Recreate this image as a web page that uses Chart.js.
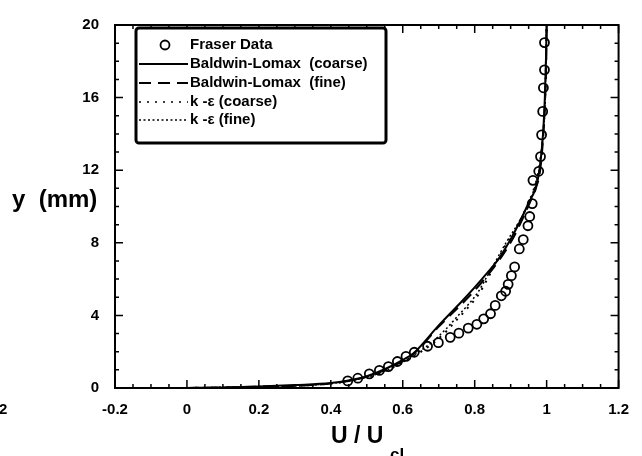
<!DOCTYPE html>
<html>
<head>
<meta charset="utf-8">
<script src="https://cdn.jsdelivr.net/npm/chart.js@4.4.0/dist/chart.umd.min.js"></script>
<style>
  html, body { margin: 0; padding: 0; background: #fff; }
  #wrap { width: 642px; height: 456px; }
</style>
</head>
<body>
<div id="wrap"><canvas id="chart" width="642" height="456"></canvas></div>
<script>
// Dados (U/Ucl, y em mm)
const fraserU = [0.447, 0.475, 0.507, 0.535, 0.560, 0.585, 0.609, 0.632, 0.669, 0.699, 0.732, 0.756,
                 0.782, 0.806, 0.825, 0.844, 0.857, 0.874, 0.886, 0.893, 0.902, 0.911, 0.924, 0.935,
                 0.948, 0.953, 0.960, 0.962, 0.978, 0.983, 0.986, 0.989, 0.991, 0.994, 0.994];
const fraserY = [0.39, 0.54, 0.78, 0.97, 1.18, 1.46, 1.74, 1.97, 2.30, 2.50, 2.79, 3.02,
                 3.30, 3.51, 3.81, 4.09, 4.55, 5.08, 5.33, 5.71, 6.19, 6.67, 7.66, 8.18,
                 8.94, 9.45, 10.16, 11.44, 11.94, 12.75, 13.95, 15.24, 16.54, 17.53, 19.03];

const blCoarseU = [0.0, 0.1, 0.2, 0.3, 0.4, 0.45, 0.5, 0.56, 0.6, 0.63, 0.70, 0.775, 0.82,
                   0.867, 0.90, 0.923, 0.95, 0.969, 0.98, 0.99, 0.995, 0.998, 1.0];
const blCoarseY = [0.0, 0.03, 0.08, 0.16, 0.27, 0.42, 0.65, 1.13, 1.55, 1.92, 3.45, 5.0, 6.0,
                   7.13, 8.2, 9.06, 10.2, 11.0, 12.0, 14.0, 16.0, 18.0, 20.0];

const blFineU = [0.0, 0.2, 0.4, 0.5, 0.56, 0.63, 0.70, 0.78, 0.825, 0.87, 0.905, 0.928,
                 0.953, 0.97, 0.982, 0.991, 0.996, 0.999, 1.0];
const blFineY = [0.0, 0.07, 0.25, 0.62, 1.08, 1.88, 3.38, 4.95, 5.95, 7.1, 8.2, 9.1,
                 10.2, 11.0, 12.0, 14.0, 16.0, 18.0, 20.0];

const keCoarseU = [0.0, 0.2, 0.4, 0.5, 0.58, 0.63, 0.68, 0.72, 0.75, 0.78, 0.812, 0.835, 0.862, 0.89,
                   0.92, 0.945, 0.965, 0.978, 0.99, 0.996, 1.0];
const keCoarseY = [0.0, 0.07, 0.25, 0.6, 1.2, 1.75, 2.4, 3.1, 3.75, 4.4, 5.19, 6.0, 7.0, 8.0,
                   9.0, 10.0, 11.0, 12.0, 14.0, 16.0, 20.0];

const keFineU = [0.0, 0.2, 0.4, 0.5, 0.58, 0.63, 0.68, 0.72, 0.75, 0.78, 0.81, 0.833, 0.86, 0.89,
                 0.92, 0.946, 0.966, 0.979, 0.99, 0.996, 1.0];
const keFineY = [0.0, 0.07, 0.25, 0.6, 1.2, 1.8, 2.5, 3.25, 3.9, 4.55, 5.3, 6.1, 7.05, 8.1,
                 9.05, 10.0, 11.0, 12.0, 14.0, 16.0, 20.0];

const xTicks = [-0.2, 0, 0.2, 0.4, 0.6, 0.8, 1, 1.2];
const yTicks = [0, 4, 8, 12, 16, 20];

const legendLabels = ['Fraser Data', 'Baldwin-Lomax  (coarse)', 'Baldwin-Lomax  (fine)', 'k -\u03b5 (coarse)', 'k -\u03b5 (fine)'];

const pts = (us, ys) => us.map((u, i) => ({ x: u, y: ys[i] }));
const FONT = '"Liberation Sans", Arial, sans-serif';

// Traços internos (maiores e menores) nos quatro lados + moldura + legenda + títulos
const framePlugin = {
  id: 'frame',
  afterDraw(chart) {
    const { ctx, chartArea: a, scales: { x, y } } = chart;
    ctx.save();
    ctx.strokeStyle = '#000';
    ctx.lineWidth = 1.5;
    ctx.beginPath();
    for (let v = -0.2; v <= 1.2001; v += 0.05) {
      const px = x.getPixelForValue(v);
      const major = Math.abs(v / 0.2 - Math.round(v / 0.2)) < 1e-6;
      const len = major ? 8 : 4;
      ctx.moveTo(px, a.bottom); ctx.lineTo(px, a.bottom - len);
      ctx.moveTo(px, a.top); ctx.lineTo(px, a.top + len);
    }
    for (let v = 0; v <= 20; v += 1) {
      const py = y.getPixelForValue(v);
      const len = v % 4 === 0 ? 8 : 4;
      ctx.moveTo(a.left, py); ctx.lineTo(a.left + len, py);
      ctx.moveTo(a.right, py); ctx.lineTo(a.right - len, py);
    }
    ctx.stroke();
    ctx.lineWidth = 2;
    ctx.strokeRect(a.left, a.top, a.right - a.left, a.bottom - a.top);

    // Legenda
    ctx.lineWidth = 3;
    ctx.beginPath();
    ctx.roundRect(136, 28, 250, 115, 3);
    ctx.fillStyle = '#fff';
    ctx.fill();
    ctx.stroke();
    ctx.fillStyle = '#000';
    ctx.font = 'bold 15px ' + FONT;
    ctx.textBaseline = 'middle';
    const rows = [45, 64, 83, 102, 120];
    const dashes = [null, [], [12, 7], [2, 6], [2, 2.5]];
    rows.forEach((ry, i) => {
      if (i === 0) {
        ctx.lineWidth = 1.8;
        ctx.beginPath();
        ctx.arc(165, ry, 4.5, 0, Math.PI * 2);
        ctx.stroke();
      } else {
        ctx.lineWidth = i >= 3 ? 1.5 : 2;
        ctx.setLineDash(dashes[i]);
        ctx.beginPath();
        ctx.moveTo(139, ry); ctx.lineTo(188, ry);
        ctx.stroke();
        ctx.setLineDash([]);
      }
      ctx.textAlign = 'left';
      ctx.fillText(legendLabels[i], 190, ry);
    });

    // Títulos dos eixos
    ctx.textAlign = 'left';
    ctx.textBaseline = 'alphabetic';
    ctx.font = 'bold 24px ' + FONT;
    ctx.fillText('y  (mm)', 12, 207);
    ctx.font = 'bold 23px ' + FONT;
    ctx.fillText('U / U', 331, 443);
    ctx.font = 'bold 17px ' + FONT;
    ctx.fillText('cl', 390, 460);
    // fragmento do rótulo da figura vizinha
    ctx.font = 'bold 15px ' + FONT;
    ctx.fillText('2', -1, 414);
    ctx.restore();
  }
};

const ctx = document.getElementById('chart');
const lineBase = { showLine: true, cubicInterpolationMode: 'monotone', borderColor: '#000', pointRadius: 0 };
new Chart(ctx, {
  type: 'scatter',
  data: {
    datasets: [
      { label: legendLabels[0], data: pts(fraserU, fraserY), showLine: false,
        pointStyle: 'circle', pointRadius: 4.5, pointBorderWidth: 1.8,
        pointBorderColor: '#000', pointBackgroundColor: 'rgba(0,0,0,0)' },
      { ...lineBase, label: legendLabels[1], data: pts(blCoarseU, blCoarseY), borderWidth: 2 },
      { ...lineBase, label: legendLabels[2], data: pts(blFineU, blFineY), borderWidth: 2, borderDash: [12, 7] },
      { ...lineBase, label: legendLabels[3], data: pts(keCoarseU, keCoarseY), borderWidth: 2, borderDash: [2, 6] },
      { ...lineBase, label: legendLabels[4], data: pts(keFineU, keFineY), borderWidth: 1.5, borderDash: [2, 2.5] }
    ]
  },
  options: {
    responsive: false,
    animation: false,
    layout: { padding: { left: 0, right: 22, top: 10, bottom: 0 } },
    plugins: { legend: { display: false }, tooltip: { enabled: false } },
    scales: {
      x: {
        type: 'linear', min: -0.2, max: 1.2,
        afterFit(scale) { scale.height = 68; },
        afterBuildTicks(scale) { scale.ticks = xTicks.map(v => ({ value: v })); },
        grid: { display: false, drawTicks: false },
        border: { display: false },
        ticks: { color: '#000', padding: 13, maxRotation: 0, font: { family: FONT, size: 15, weight: 'bold' },
                 callback: v => String(Math.round(v * 10) / 10) }
      },
      y: {
        type: 'linear', min: 0, max: 20,
        afterFit(scale) { scale.width = 115; },
        afterBuildTicks(scale) { scale.ticks = yTicks.map(v => ({ value: v })); },
        grid: { display: false, drawTicks: false },
        border: { display: false },
        ticks: { color: '#000', padding: 16, font: { family: FONT, size: 15, weight: 'bold' } }
      }
    }
  },
  plugins: [framePlugin]
});
</script>
</body>
</html>
